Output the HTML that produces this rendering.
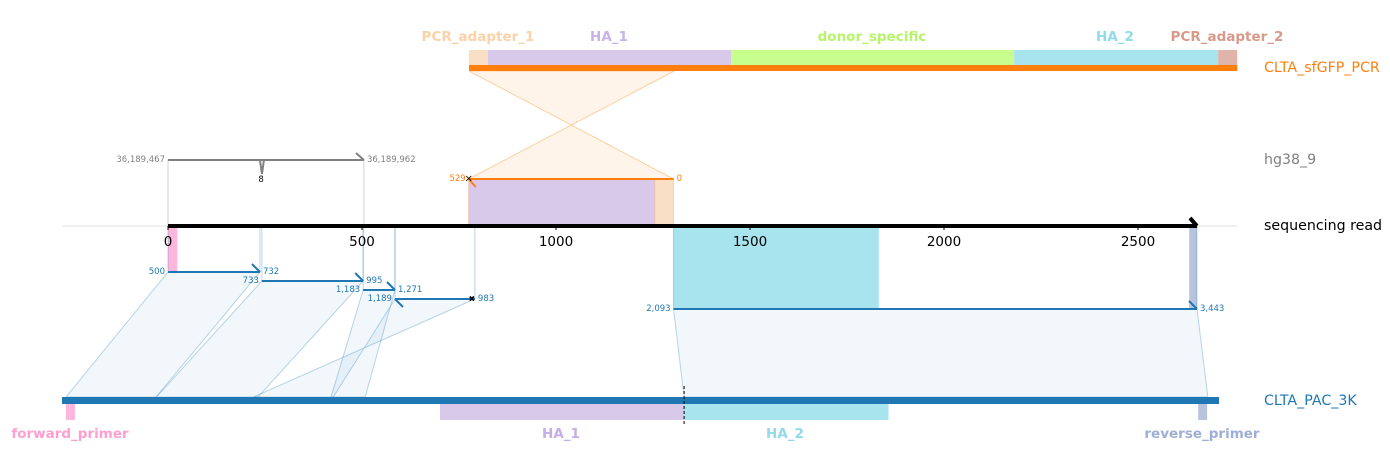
<!DOCTYPE html>
<html><head><meta charset="utf-8"><style>
body{margin:0;background:#fff}
svg{display:block;font-family:"DejaVu Sans","Liberation Sans",sans-serif}
</style></head><body>
<svg id="chart" width="1390" height="470" viewBox="0 0 1390 470" xmlns="http://www.w3.org/2000/svg"></svg>
<script>
// ---- data ----
const readTicks = [0, 500, 1000, 1500, 2000, 2500];
const readLength = 2652;
// alignments of read to CLTA_PAC_3K: [readStart, readEnd, refStart, refEnd]
const pacReadStarts = [0, 242, 503, 585, 1303];
const pacReadEnds   = [237, 503, 585, 791, 2652];
const pacRefStarts  = [500, 733, 1183, 1189, 2093];
const pacRefEnds    = [732, 995, 1271, 983, 3443];
const pacLength = 3490;
const pacFeatNames = ["forward_primer", "HA_1", "HA_2", "reverse_primer"];
const pacFeatStarts = [500, 1464, 2093, 3418];
const pacFeatEnds   = [523, 2093, 2620, 3441];
const pacFeatColors = ["#ffb6dc", "#d8c8ea", "#a8e4ee", "#b8c4de"];
const pacFeatText   = ["#ff9fcf", "#c5aee6", "#8fdbea", "#9eaed6"];
// donor alignment
const donorRead = [775, 1303];
const donorRef = [529, 0];
const donorLength = 1980;
const donorFeatNames = ["PCR_adapter_1", "HA_1", "donor_specific", "HA_2", "PCR_adapter_2"];
const donorFeatStarts = [0, 49, 676, 1405, 1931];
const donorFeatEnds   = [49, 676, 1405, 1931, 1980];
const donorFeatColors = ["#f9dfc3", "#d8c8ea", "#c8fe8e", "#a8e4ee", "#e0b4a8"];
const donorFeatText   = ["#f9d2a8", "#c8b2e6", "#b6f46a", "#8fdbea", "#d9998a"];
// genome alignment
const genomeRead = [0, 505];
const genomeRef = ["36,189,467", "36,189,962"];

// ---- scales ----
const rx = v => 168 + v * 0.388;          // read
const px = v => 66 + (v - 500) * 0.388;   // CLTA_PAC_3K
const dx = v => 469 + v * 0.388;          // donor
const svg = document.getElementById('chart');
const NS = 'http://www.w3.org/2000/svg';
function mk(tag, attrs, parent) {
  const e = document.createElementNS(NS, tag);
  for (const k in attrs) e.setAttribute(k, attrs[k]);
  (parent || svg).appendChild(e);
  return e;
}
function txt(s, x, y, size, fill, anchor, weight) {
  const t = mk('text', {x, y, 'font-size': size, fill, 'text-anchor': anchor || 'start', 'font-weight': weight || 'normal', 'dominant-baseline': 'central'});
  t.textContent = s;
  return t;
}

const readY = 226, pacY = 400, donorY = 68, genY = 160;

let g = mk('line', {x1: 62, x2: 1237, y1: readY, y2: readY, stroke: '#e0e0e0', 'stroke-width': 1});



let cr = mk('polygon', {points: `${dx(0)},${donorY + 3} ${dx(donorRef[0])},${donorY + 3} ${rx(donorRead[0])},179 ${rx(donorRead[1])},179`, fill: '#fff4ea', stroke: '#fdd0a2', 'stroke-width': 1});



donorFeatNames.forEach((n, i) => {
  const r = mk('rect', {x: dx(donorFeatStarts[i]), y: 50, width: dx(donorFeatEnds[i]) - dx(donorFeatStarts[i]), height: 15, fill: donorFeatColors[i]});
  
  
  const lx = [478, 609, 872, 1115, 1227][i];
  const t = txt(n, lx, 37, 13.5, donorFeatText[i], 'middle', 'bold');
  
  
});
let db = mk('rect', {x: dx(0), y: 65, width: dx(donorLength) - dx(0), height: 6, fill: '#ff7f0e'});



let dp = mk('rect', {x: rx(donorRead[0]), y: 179, width: rx(1255) - rx(donorRead[0]), height: readY - 179, fill: '#d8c8ea', stroke: '#e8a090', 'stroke-width': 0.5});


let dq = mk('rect', {x: rx(1255), y: 179, width: rx(donorRead[1]) - rx(1255), height: readY - 179, fill: '#f9dfc3', stroke: '#fdb870', 'stroke-width': 0.5});


let dl = mk('line', {x1: rx(donorRead[0]), x2: rx(donorRead[1]), y1: 179, y2: 179, stroke: '#ff7f0e', 'stroke-width': 2});


mk('line', {x1: rx(donorRead[0]), y1: 179, x2: rx(donorRead[0]) + 7, y2: 187, stroke: '#ff7f0e', 'stroke-width': 2});
txt('×', rx(donorRead[0]), 179, 10, '#000', 'middle');
let t1 = txt(String(donorRef[0]), rx(donorRead[0]) - 3, 179, 8.5, '#ff7f0e', 'end');


let t2 = txt(String(donorRef[1]), rx(donorRead[1]) + 3, 179, 8.5, '#ff7f0e', 'start');



mk('line', {x1: rx(genomeRead[0]), x2: rx(genomeRead[0]), y1: genY, y2: readY, stroke: '#d0d0d0', 'stroke-width': 1});
mk('line', {x1: rx(genomeRead[1]), x2: rx(genomeRead[1]), y1: genY, y2: readY, stroke: '#d0d0d0', 'stroke-width': 1});
let gl = mk('path', {d: `M${rx(genomeRead[0])},${genY} H${rx(genomeRead[1])} M${rx(genomeRead[1])},${genY} l-8,-7 M${rx(237)},${genY} l2,14 l2,-14`, stroke: '#808080', 'stroke-width': 2, fill: 'none'});


txt(genomeRef[0], rx(genomeRead[0]) - 3, genY, 8.5, '#808080', 'end');
txt(genomeRef[1], rx(genomeRead[1]) + 3, genY, 8.5, '#808080', 'start');
txt('8', rx(240), 180, 8.5, '#000', 'middle');

function band(x1, x2, y2, fill, name) {
  const r = mk('rect', {x: x1, y: readY, width: x2 - x1, height: y2 - readY, fill});
  
  
}
band(rx(0), rx(24), 272, '#ffb6dc', 'forward-primer-region');
band(rx(1303), rx(1832), 309, '#a8e4ee', 'ha2-region');
band(rx(2632), rx(2652), 309, '#b8c4de', 'reverse-primer-region');

const segY = [272, 281, 290, 299, 309];
pacReadStarts.forEach((s, i) => {
  const e = pacReadEnds[i], y = segY[i];
  const poly = mk('polygon', {points: `${rx(s)},${y} ${rx(e)},${y} ${px(pacRefEnds[i])},${pacY - 3} ${px(pacRefStarts[i])},${pacY - 3}`, fill: 'rgba(31,119,180,0.06)', stroke: 'rgba(31,119,180,0.3)', 'stroke-width': 1});
  
  
  mk('line', {x1: rx(s), x2: rx(s), y1: readY, y2: y, stroke: 'rgba(31,119,180,0.3)', 'stroke-width': 1});
  mk('line', {x1: rx(e), x2: rx(e), y1: readY, y2: y, stroke: 'rgba(31,119,180,0.3)', 'stroke-width': 1});
});
pacReadStarts.forEach((s, i) => {
  const e = pacReadEnds[i], y = segY[i];
  const fwd = pacRefEnds[i] > pacRefStarts[i];
  const l = mk('line', {x1: rx(s), x2: rx(e), y1: y, y2: y, stroke: '#1f77b4', 'stroke-width': 2});
  
  
  if (fwd) mk('line', {x1: rx(e), y1: y, x2: rx(e) - 8, y2: y - 8, stroke: '#1f77b4', 'stroke-width': 2});
  else { mk('line', {x1: rx(s), y1: y, x2: rx(s) + 8, y2: y + 8, stroke: '#1f77b4', 'stroke-width': 2}); txt('✖', rx(e) - 3, y, 8, '#000', 'middle'); }
  const a = txt(pacRefStarts[i].toLocaleString('en-US'), rx(s) - 3, y, 8.5, '#1f77b4', 'end');
  
  
  const b = txt(pacRefEnds[i].toLocaleString('en-US'), rx(e) + 3, y, 8.5, '#1f77b4', 'start');
  
  
});

let ra = mk('path', {d: `M${rx(0)},${readY} H${rx(readLength)} M${rx(readLength)},${readY} l-7,-8`, stroke: '#000', 'stroke-width': 4, fill: 'none'});


readTicks.forEach(v => {
  mk('line', {x1: rx(v), x2: rx(v), y1: readY, y2: readY + 4, stroke: '#000', 'stroke-width': 1});
  const t = txt(String(v), rx(v), 242, 13.5, '#000', 'middle');
  
  
});

pacFeatNames.forEach((n, i) => {
  const r = mk('rect', {x: px(pacFeatStarts[i]), y: 404, width: px(pacFeatEnds[i]) - px(pacFeatStarts[i]), height: 16, fill: pacFeatColors[i]});
  
  
  const lx = [70, 561, 785, 1202][i];
  const t = txt(n, lx, 434, 13.5, pacFeatText[i], 'middle', 'bold');
  
  
});
let pb = mk('rect', {x: 62, y: 397, width: 1219 - 62, height: 7, fill: '#1f77b4'});


let cut = mk('line', {x1: px(2093), x2: px(2093), y1: 386, y2: 424, stroke: '#000', 'stroke-width': 1, 'stroke-dasharray': '3,2'});



[['CLTA_sfGFP_PCR', donorY, '#ff7f0e'], ['hg38_9', genY, '#808080'], ['sequencing read', readY, '#000'], ['CLTA_PAC_3K', 401, '#1f77b4']].forEach(([s, y, c]) => {
  const t = txt(s, 1264, y, 14.2, c, 'start');
  
  
});
</script>
</body></html>
